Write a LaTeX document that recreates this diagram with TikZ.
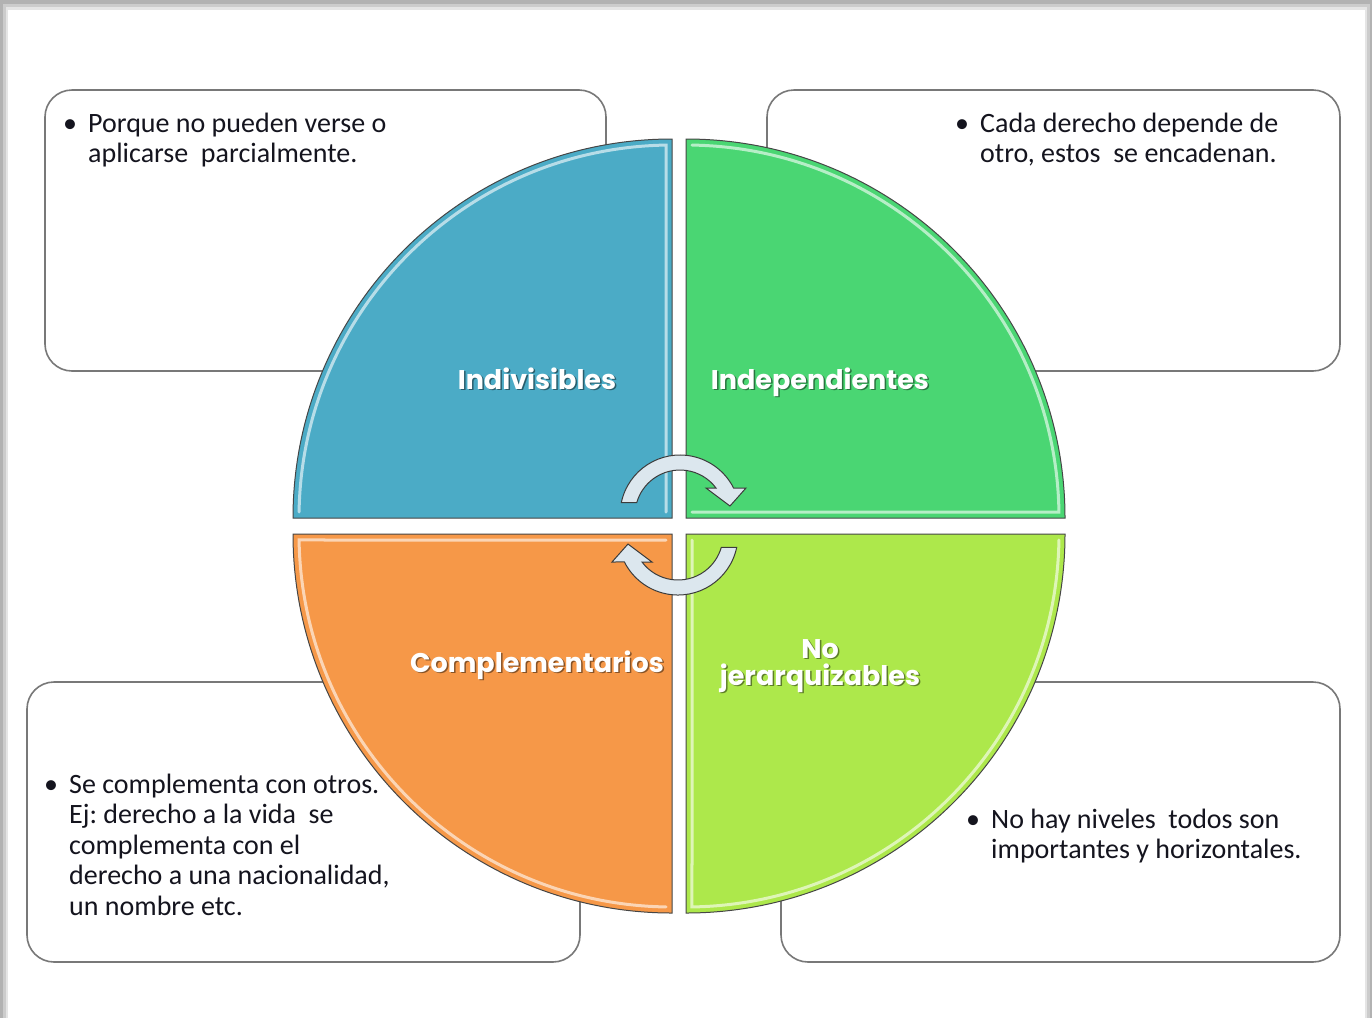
\documentclass[tikz,border=0pt]{standalone}
\usepackage{fontspec}
\setmainfont{Carlito}
\newfontfamily\lblfont{Poppins}
\usetikzlibrary{calc}
\definecolor{qblue}{RGB}{75,171,198}
\definecolor{qgreen}{RGB}{74,214,115}
\definecolor{qorange}{RGB}{246,152,72}
\definecolor{qlime}{RGB}{173,232,75}
\definecolor{qline}{RGB}{70,70,70}
\definecolor{boxgray}{RGB}{120,120,120}
\definecolor{txt}{RGB}{20,20,30}
\definecolor{arrowfill}{RGB}{220,231,238}
\definecolor{arrowline}{RGB}{60,60,60}
\begin{document}
\frenchspacing
\begin{tikzpicture}[x=1pt,y=1pt,
  infobox/.style={draw=boxgray, line width=1.6pt, fill=white, rounded corners=27pt},
  quad/.style={draw=qline, line width=1pt},
  bevel/.style={draw=white, draw opacity=0.6, line width=3pt, line cap=round},
  bodytext/.style={anchor=north west, inner sep=0pt, text=txt, font=\fontsize{28}{30.5}\selectfont\frenchspacing},
  lbl/.style={text=white, inner sep=0pt, align=center, font=\lblfont\bfseries\fontsize{27}{27}\selectfont},
  lblshadow/.style={text=black, text opacity=0.45, inner sep=0pt, align=center, font=\lblfont\bfseries\fontsize{27}{27}\selectfont},
  circarrow/.style={fill=arrowfill, draw=arrowline, line width=1pt}]
\useasboundingbox (0,0) rectangle (1372,-1018);
% page with shadow
\fill[black!30] (0,0) rectangle (1372,-1018);
\fill[black!20] (3,-4) rectangle (1370,-1018);
\fill[black!10] (6,-7) rectangle (1367,-1018);
\fill[white] (8,-10) rectangle (1365,-1018);
% info boxes
\draw[infobox] (45,-90) rectangle (606,-371);
\draw[infobox] (767,-90) rectangle (1340,-371);
\draw[infobox] (27,-682) rectangle (580,-962);
\draw[infobox] (781,-682) rectangle (1340,-962);
% box texts
\node[bodytext] (t1) at (63,-110.6) {\begin{tabular}{@{}p{25pt}@{}l@{}}\textbullet & Porque no pueden verse o\\ & aplicarse\ \ parcialmente.\end{tabular}};
\node[bodytext] (t2) at (955,-110.6) {\begin{tabular}{@{}p{25pt}@{}l@{}}\textbullet & Cada derecho depende de\\ & otro, estos\ \ se encadenan.\end{tabular}};
\node[bodytext] (t3) at (44,-771.6) {\begin{tabular}{@{}p{25pt}@{}l@{}}\textbullet & Se complementa con otros.\\ & Ej: derecho a la vida\ \ se\\ & complementa con el\\ & derecho a una nacionalidad,\\ & un nombre etc.\end{tabular}};
\node[bodytext] (t4) at (966,-806.6) {\begin{tabular}{@{}p{25pt}@{}l@{}}\textbullet & No hay niveles\ \ todos son\\ & importantes y horizontales.\end{tabular}};
% quadrants
\draw[quad, fill=qblue] (672,-518) -- (293,-518) arc[start angle=180, end angle=90, radius=379] -- cycle;
\draw[quad, fill=qgreen] (686,-518) -- (686,-139) arc[start angle=90, end angle=0, radius=379] -- cycle;
\draw[quad, fill=qorange] (672,-534) -- (293,-534) arc[start angle=180, end angle=270, radius=379] -- cycle;
\draw[quad, fill=qlime] (686,-534) -- (1065,-534) arc[start angle=0, end angle=-90, radius=379] -- cycle;
% bevel highlights
\draw[bevel] ([shift={(672,-518)}]179.08:373) arc[start angle=179.08, end angle=90.92, radius=373] -- (666,-512);
\draw[bevel] ([shift={(686,-518)}]89.08:373) arc[start angle=89.08, end angle=0.92, radius=373] -- (692,-512);
\draw[bevel] (666,-540) -- ([shift={(672,-534)}]180.92:373) arc[start angle=180.92, end angle=269.08, radius=373];
\draw[bevel] (692,-540) -- ([shift={(686,-534)}]-89.08:373) arc[start angle=-89.08, end angle=-0.92, radius=373];
% labels
\node[lblshadow] (s1) at (538.5,-390.5) [anchor=base] {Indivisibles};
\node[lbl] (l1) at (537,-389) [anchor=base] {Indivisibles};
\node[lblshadow] (s2) at (821.5,-390.5) [anchor=base] {Independientes};
\node[lbl] (l2) at (820,-389) [anchor=base] {Independientes};
\node[lblshadow] (s3) at (538.5,-673.5) [anchor=base] {Complementarios};
\node[lbl] (l3) at (537,-672) [anchor=base] {Complementarios};
\node[lblshadow] (s4) at (821.5,-667.5) {No\\jerarquizables};
\node[lbl] (l4) at (820,-666) {No\\jerarquizables};
% circular arrows
\draw[circarrow] ([shift={(680,-515)}]168:60) arc[start angle=168, end angle=26.7, radius=60]
  -- (746,-488) -- (730,-506) -- (706,-488) -- (716,-488)
  arc[start angle=36.87, end angle=164, radius=45] -- cycle;
\begin{scope}[rotate around={180:(679,-525)}]
\draw[circarrow] ([shift={(680,-515)}]168:60) arc[start angle=168, end angle=26.7, radius=60]
  -- (746,-488) -- (730,-506) -- (706,-488) -- (716,-488)
  arc[start angle=36.87, end angle=164, radius=45] -- cycle;
\end{scope}
\end{tikzpicture}
\end{document}
